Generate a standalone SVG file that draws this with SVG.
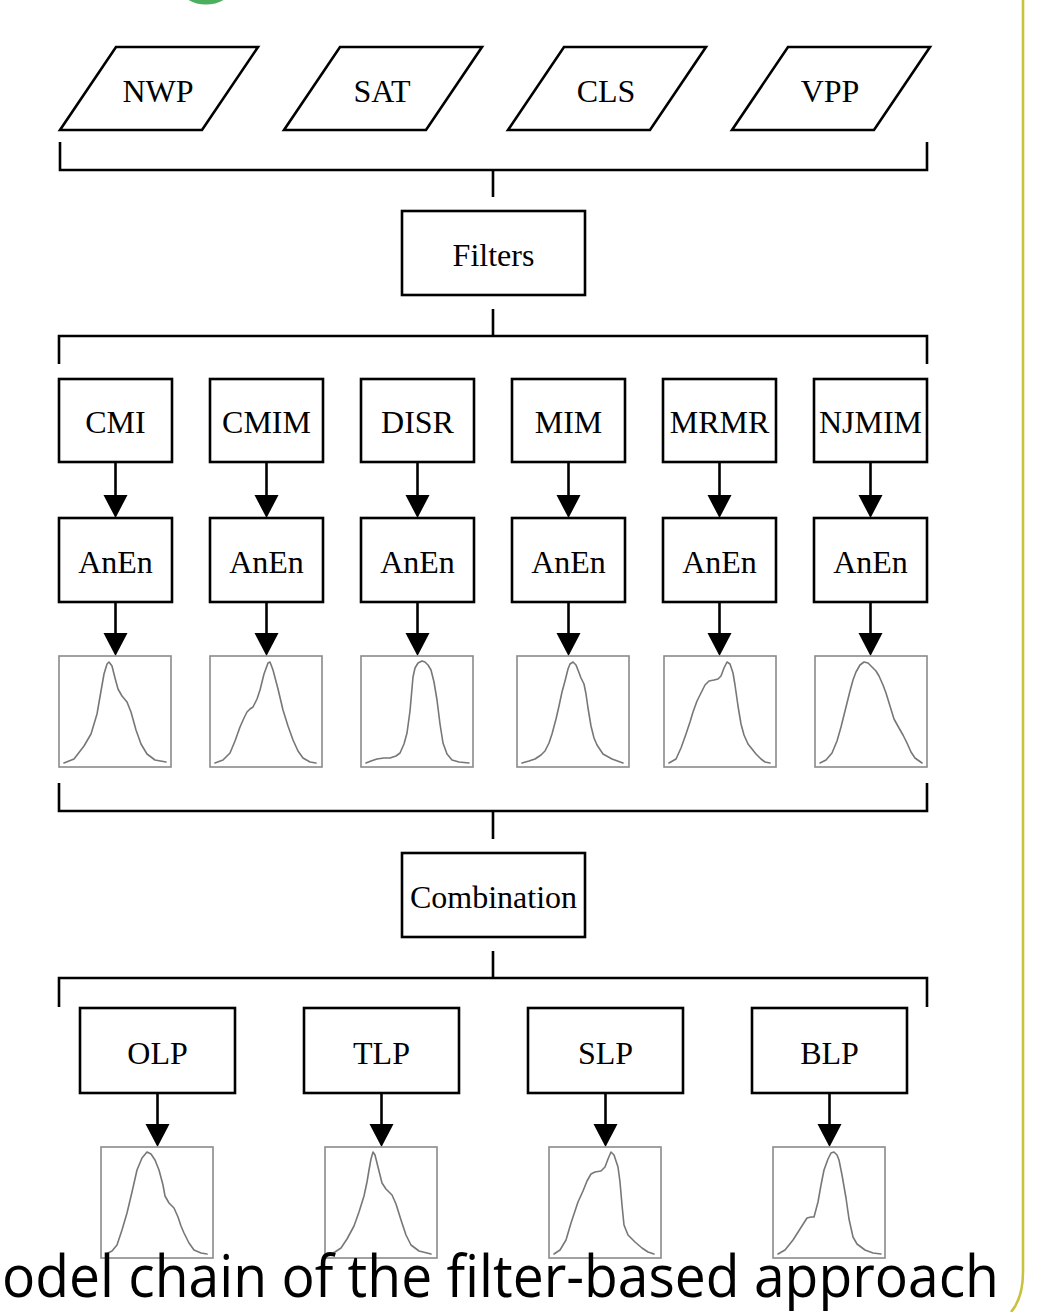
<svg xmlns="http://www.w3.org/2000/svg" width="1060" height="1312" viewBox="0 0 1060 1312">
<style>
.box{fill:#fff;stroke:#000;stroke-width:2.6}
.lbl{font-family:"Liberation Serif","Times New Roman",serif;font-size:32px;fill:#000;text-anchor:middle}
.con{fill:none;stroke:#000;stroke-width:2.6}
.plot{fill:#fff;stroke:#8a8a8a;stroke-width:1.6}
.curve{fill:none;stroke:#777;stroke-width:1.6;stroke-linejoin:round;stroke-linecap:round}
.cap{font-family:"Open Sans","Noto Sans","Liberation Sans",sans-serif;font-size:58px;fill:#000}
</style>
<defs>
<marker id="ah" markerUnits="userSpaceOnUse" markerWidth="26" markerHeight="26" viewBox="0 0 26 26" refX="19" refY="13" orient="auto">
<path d="M0,1 L23,13 L0,25 Z" fill="#000"/>
</marker>
<polyline id="cCMI" points="5,107 15,103 25,90 32,78 38,58 42,35 45,18 48,8 50,6 53,10 56,22 59,33 63,40 68,46 72,56 77,74 82,88 88,98 96,104 107,106"/>
<polyline id="cCMIM" points="5,107 13,104 20,97 25,85 30,71 34,62 37,56 40,53 43,51 47,43 50,34 54,18 58,7 60,6 63,14 68,33 73,54 78,70 83,84 88,95 93,102 100,106 106,107"/>
<polyline id="cDISR" points="5,107 10,105 16,103 23,102 29,102 35,100 39,97 43,88 46,77 49,55 52,21 54,12 57,7 61,5 64,6 67,9 70,14 73,26 76,44 79,68 82,87 86,98 91,104 98,106 108,107"/>
<polyline id="cMIM" points="5,107 12,105 18,103 24,99 28,95 32,87 35,78 39,63 42,50 45,36 48,25 51,13 53,8 56,6 59,9 61,14 64,22 67,28 69,38 71,52 74,70 77,82 80,89 86,98 95,103 106,107"/>
<polyline id="cMRMR" points="5,107 12,103 17,92 22,78 26,66 29,56 33,45 37,37 41,29 45,25 50,24 54,23 57,20 60,12 63,6 66,8 69,17 71,29 74,50 77,68 80,79 84,88 88,93 92,98 97,103 101,106 106,107"/>
<polyline id="cNJMIM" points="5,107 11,104 17,97 22,85 26,71 30,55 35,35 38,24 41,16 45,9 49,6 53,7 57,11 61,15 64,20 68,29 71,37 75,50 79,63 84,72 88,79 92,87 96,96 100,102 107,107"/>
<polyline id="cOLP" points="5,107 11,104 16,98 21,83 26,66 31,45 36,23 41,11 46,5 50,7 54,13 58,23 62,38 64,49 68,56 73,61 77,70 80,79 83,86 88,96 93,103 100,106 106,107"/>
<polyline id="cTLP" points="5,107 10,105 16,101 22,92 29,79 34,65 39,49 42,35 44,23 46,12 48,5 50,8 52,16 55,28 57,36 61,42 67,48 71,57 76,73 81,88 86,98 94,104 106,107"/>
<polyline id="cSLP" points="5,107 11,103 17,93 22,76 26,64 29,55 34,44 38,34 42,27 46,25 52,24 56,20 59,12 62,5 65,8 69,20 71,35 73,58 75,78 79,88 86,95 93,101 99,105 105,107"/>
<polyline id="cBLP" points="5,107 12,103 20,93 27,82 34,71 38,70 41,70 45,55 48,38 51,23 55,12 58,6 61,5 64,8 66,13 69,28 73,51 76,72 80,90 84,97 92,103 100,106 108,107"/>
</defs>

<rect width="1060" height="1312" fill="#fff"/>
<circle cx="206" cy="-31" r="33" fill="none" stroke="#4caf5f" stroke-width="5"/>
<path d="M1023,0 V1272 Q1023,1298 1011,1312" fill="none" stroke="#c9c23e" stroke-width="2.6"/>

<g id="connectors">
<path class="con" d="M60,142 V170 H927 V142 M493,170 V197"/>
<path class="con" d="M493,309 V336 M59,364 V336 H927 V364"/>
<path class="con" d="M59,783 V811 H927 V783 M493,811 V839"/>
<path class="con" d="M493,951 V978 M59,1007 V978 H927 V1007"/>
<g marker-end="url(#ah)">
<line class="con" x1="115.5" y1="462" x2="115.5" y2="514"/>
<line class="con" x1="266.5" y1="462" x2="266.5" y2="514"/>
<line class="con" x1="417.5" y1="462" x2="417.5" y2="514"/>
<line class="con" x1="568.5" y1="462" x2="568.5" y2="514"/>
<line class="con" x1="719.5" y1="462" x2="719.5" y2="514"/>
<line class="con" x1="870.5" y1="462" x2="870.5" y2="514"/>
<line class="con" x1="115.5" y1="602" x2="115.5" y2="652"/>
<line class="con" x1="266.5" y1="602" x2="266.5" y2="652"/>
<line class="con" x1="417.5" y1="602" x2="417.5" y2="652"/>
<line class="con" x1="568.5" y1="602" x2="568.5" y2="652"/>
<line class="con" x1="719.5" y1="602" x2="719.5" y2="652"/>
<line class="con" x1="870.5" y1="602" x2="870.5" y2="652"/>
<line class="con" x1="157.5" y1="1093" x2="157.5" y2="1143"/>
<line class="con" x1="381.5" y1="1093" x2="381.5" y2="1143"/>
<line class="con" x1="605.5" y1="1093" x2="605.5" y2="1143"/>
<line class="con" x1="829.5" y1="1093" x2="829.5" y2="1143"/>
</g>
</g>

<g id="NWP"><polygon class="box" points="116,47 258,47 202,130 60,130"/><text class="lbl" x="158" y="102">NWP</text></g>
<g id="SAT"><polygon class="box" points="340,47 482,47 426,130 284,130"/><text class="lbl" x="382" y="102">SAT</text></g>
<g id="CLS"><polygon class="box" points="564,47 706,47 650,130 508,130"/><text class="lbl" x="606" y="102">CLS</text></g>
<g id="VPP"><polygon class="box" points="788,47 930,47 874,130 732,130"/><text class="lbl" x="830" y="102">VPP</text></g>

<g id="Filters"><rect class="box" x="402" y="211" width="183" height="84"/><text class="lbl" x="493.5" y="266">Filters</text></g>

<g id="CMI"><rect class="box" x="59" y="379" width="113" height="83"/><text class="lbl" x="115.5" y="433">CMI</text></g>
<g id="CMIM"><rect class="box" x="210" y="379" width="113" height="83"/><text class="lbl" x="266.5" y="433">CMIM</text></g>
<g id="DISR"><rect class="box" x="361" y="379" width="113" height="83"/><text class="lbl" x="417.5" y="433">DISR</text></g>
<g id="MIM"><rect class="box" x="512" y="379" width="113" height="83"/><text class="lbl" x="568.5" y="433">MIM</text></g>
<g id="MRMR"><rect class="box" x="663" y="379" width="113" height="83"/><text class="lbl" x="719.5" y="433">MRMR</text></g>
<g id="NJMIM"><rect class="box" x="814" y="379" width="113" height="83"/><text class="lbl" x="870.5" y="433">NJMIM</text></g>

<g id="AnEn1"><rect class="box" x="59" y="518" width="113" height="84"/><text class="lbl" x="115.5" y="573">AnEn</text></g>
<g id="AnEn2"><rect class="box" x="210" y="518" width="113" height="84"/><text class="lbl" x="266.5" y="573">AnEn</text></g>
<g id="AnEn3"><rect class="box" x="361" y="518" width="113" height="84"/><text class="lbl" x="417.5" y="573">AnEn</text></g>
<g id="AnEn4"><rect class="box" x="512" y="518" width="113" height="84"/><text class="lbl" x="568.5" y="573">AnEn</text></g>
<g id="AnEn5"><rect class="box" x="663" y="518" width="113" height="84"/><text class="lbl" x="719.5" y="573">AnEn</text></g>
<g id="AnEn6"><rect class="box" x="814" y="518" width="113" height="84"/><text class="lbl" x="870.5" y="573">AnEn</text></g>

<g id="pdf1" transform="translate(59,656)"><rect class="plot" width="112" height="111"/><use href="#cCMI" class="curve"/></g>
<g id="pdf2" transform="translate(210,656)"><rect class="plot" width="112" height="111"/><use href="#cCMIM" class="curve"/></g>
<g id="pdf3" transform="translate(361,656)"><rect class="plot" width="112" height="111"/><use href="#cDISR" class="curve"/></g>
<g id="pdf4" transform="translate(517,656)"><rect class="plot" width="112" height="111"/><use href="#cMIM" class="curve"/></g>
<g id="pdf5" transform="translate(664,656)"><rect class="plot" width="112" height="111"/><use href="#cMRMR" class="curve"/></g>
<g id="pdf6" transform="translate(815,656)"><rect class="plot" width="112" height="111"/><use href="#cNJMIM" class="curve"/></g>

<g id="Combination"><rect class="box" x="402" y="853" width="183" height="84"/><text class="lbl" x="493.5" y="908">Combination</text></g>

<g id="OLP"><rect class="box" x="80" y="1008" width="155" height="85"/><text class="lbl" x="157.5" y="1064">OLP</text></g>
<g id="TLP"><rect class="box" x="304" y="1008" width="155" height="85"/><text class="lbl" x="381.5" y="1064">TLP</text></g>
<g id="SLP"><rect class="box" x="528" y="1008" width="155" height="85"/><text class="lbl" x="605.5" y="1064">SLP</text></g>
<g id="BLP"><rect class="box" x="752" y="1008" width="155" height="85"/><text class="lbl" x="829.5" y="1064">BLP</text></g>

<g id="pdfOLP" transform="translate(101,1147)"><rect class="plot" width="112" height="111"/><use href="#cOLP" class="curve"/></g>
<g id="pdfTLP" transform="translate(325,1147)"><rect class="plot" width="112" height="111"/><use href="#cTLP" class="curve"/></g>
<g id="pdfSLP" transform="translate(549,1147)"><rect class="plot" width="112" height="111"/><use href="#cSLP" class="curve"/></g>
<g id="pdfBLP" transform="translate(773,1147)"><rect class="plot" width="112" height="111"/><use href="#cBLP" class="curve"/></g>

<text class="cap" x="2" y="1297" textLength="997" lengthAdjust="spacingAndGlyphs">odel chain of the filter-based approach</text>
</svg>
